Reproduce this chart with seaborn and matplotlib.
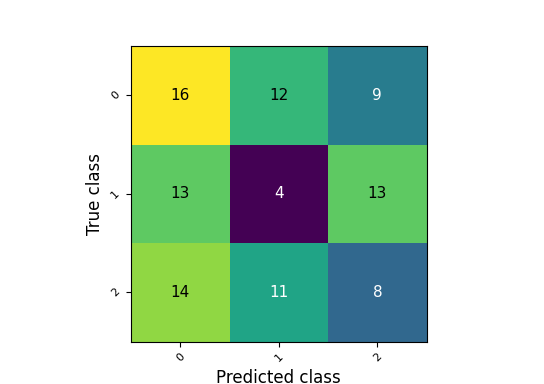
import numpy as np
import pandas as pd
import matplotlib
matplotlib.use("Agg")
import matplotlib.pyplot as plt
import seaborn as sns

# Confusion matrix counts
classes = ["0", "1", "2"]
row_0 = [16, 12, 9]
row_1 = [13, 4, 13]
row_2 = [14, 11, 8]

cm = pd.DataFrame([row_0, row_1, row_2], index=classes, columns=classes)

fig, ax = plt.subplots(figsize=(5.44, 3.84), dpi=100)
sns.heatmap(cm, cmap="viridis", annot=True, fmt="d", square=True, cbar=False,
            annot_kws={"fontsize": 11}, ax=ax)

# black text on bright cells, white on dark ones
thresh = 12
for txt in ax.texts:
    txt.set_color("black" if int(txt.get_text()) >= thresh else "white")

for side in ["left", "right", "top", "bottom"]:
    ax.spines[side].set_visible(True)
    ax.spines[side].set_color("black")
    ax.spines[side].set_linewidth(0.8)

ax.set_xticklabels(classes, rotation=45, fontsize=8)
ax.set_yticklabels(classes, rotation=45, fontsize=8)
ax.set_xlabel("Predicted class", fontsize=12)
ax.set_ylabel("True class", fontsize=12)

fig.savefig("out.png", dpi=100)
